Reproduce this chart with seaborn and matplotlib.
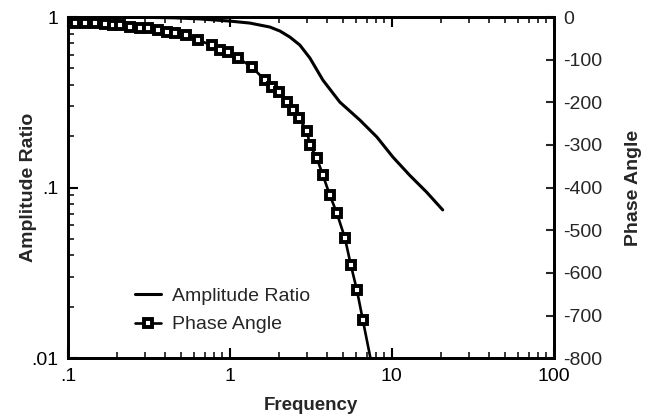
import matplotlib
matplotlib.use("Agg")
import matplotlib.pyplot as plt
import seaborn as sns
import numpy as np
from matplotlib.ticker import LogLocator, NullFormatter
from matplotlib.lines import Line2D

# ---- data ----
amp_freq = [0.1, 0.2, 0.321, 0.45, 0.653, 1.0, 1.328, 1.765, 2.037, 2.347, 2.704,
            3.118, 3.751, 4.776, 6.343, 8.08, 10.15, 12.9, 16.4, 20.6]
amp_ratio = [0.998, 0.997, 0.995, 0.99, 0.975, 0.947, 0.922, 0.874, 0.828, 0.763, 0.685,
             0.575, 0.427, 0.317, 0.249, 0.198, 0.151, 0.118, 0.094, 0.074]

phase_freq = [0.1105, 0.1274, 0.1468, 0.1692, 0.1896, 0.2094, 0.2414, 0.2783, 0.3118,
              0.3594, 0.4084, 0.4576, 0.5352, 0.6346, 0.7743, 0.8676, 0.972, 1.12,
              1.367, 1.644, 1.816, 2.007, 2.249, 2.449, 2.667, 2.988, 3.118, 3.443,
              3.751, 4.143, 4.576, 5.128, 5.584, 6.081, 6.622, 7.52]
phase_angle = [-14, -14, -14, -16, -19, -19, -23, -26, -26, -30, -35, -38, -42, -54,
               -66, -77, -82, -96, -117, -148, -164, -176, -199, -218, -237, -267,
               -300, -331, -371, -418, -460, -518, -582, -640, -711, -816]

x_ticks = [0.1, 1, 10, 100]
x_ticklabels = [".1", "1", "10", "100"]
y_ticks = [0.01, 0.1, 1]
y_ticklabels = [".01", ".1", "1"]
phase_ticks = [0, -100, -200, -300, -400, -500, -600, -700, -800]

sns.set_style("ticks")
plt.rcParams['font.family'] = ['Liberation Sans', 'DejaVu Sans']

fig = plt.figure(figsize=(6.47, 4.16), dpi=100)
ax = fig.add_axes([0.105, 0.139, 0.751, 0.820])
ax2 = ax.twinx()

MS, MEW = 5.2, 2.8
sns.lineplot(x=amp_freq, y=amp_ratio, ax=ax, color="black", linewidth=2.2,
             sort=True, estimator=None)
sns.lineplot(x=phase_freq, y=phase_angle, ax=ax2, color="black", linewidth=1.9,
             marker="s", markersize=MS, markerfacecolor="white",
             markeredgecolor="black", markeredgewidth=MEW, sort=True, estimator=None)

ax.set_xscale("log")
ax.set_yscale("log")
ax.set_xlim(0.1, 100)
ax.set_ylim(0.01, 1)
ax2.set_ylim(-800, 0)

ax.set_xticks(x_ticks)
ax.set_xticklabels(x_ticklabels)
ax.xaxis.set_minor_locator(LogLocator(base=10, subs=np.arange(2, 10)))
ax.xaxis.set_minor_formatter(NullFormatter())
ax.set_yticks(y_ticks)
ax.set_yticklabels(y_ticklabels)
ax.yaxis.set_minor_locator(LogLocator(base=10, subs=np.arange(2, 10)))
ax.yaxis.set_minor_formatter(NullFormatter())
ax2.set_yticks(phase_ticks)
ax2.set_yticklabels([str(v) for v in phase_ticks])

for a in (ax, ax2):
    for s in a.spines.values():
        s.set_linewidth(2.0)
        s.set_color("black")
        s.set_visible(True)

ax.tick_params(axis="both", which="major", direction="in", length=7, width=1.5,
               labelsize=14, pad=7, top=True, colors="black")
ax.tick_params(axis="both", which="minor", direction="in", length=4, width=1.3,
               top=True)
ax.tick_params(axis="y", which="both", right=False)
ax2.tick_params(axis="y", which="major", direction="in", length=6, width=1.5,
                labelsize=14, pad=7)

ax.set_xlabel("Frequency", fontsize=13.5, fontweight="bold", labelpad=9)
ax.set_ylabel("Amplitude Ratio", fontsize=14, fontweight="bold", labelpad=-4)
ax2.set_ylabel("Phase Angle", fontsize=14, fontweight="bold", labelpad=16)

handles = [
    Line2D([], [], color="black", linewidth=2.2),
    Line2D([], [], color="black", linewidth=1.9, marker="s", markersize=MS,
           markerfacecolor="white", markeredgecolor="black", markeredgewidth=MEW),
]
ax2.legend(handles, ["Amplitude Ratio", "Phase Angle"], loc="center left",
           bbox_to_anchor=(0.103, 0.14), frameon=False, fontsize=14,
           handlelength=1.3, handletextpad=0.6, labelspacing=0.55)

fig.savefig("out.png", dpi=100)
